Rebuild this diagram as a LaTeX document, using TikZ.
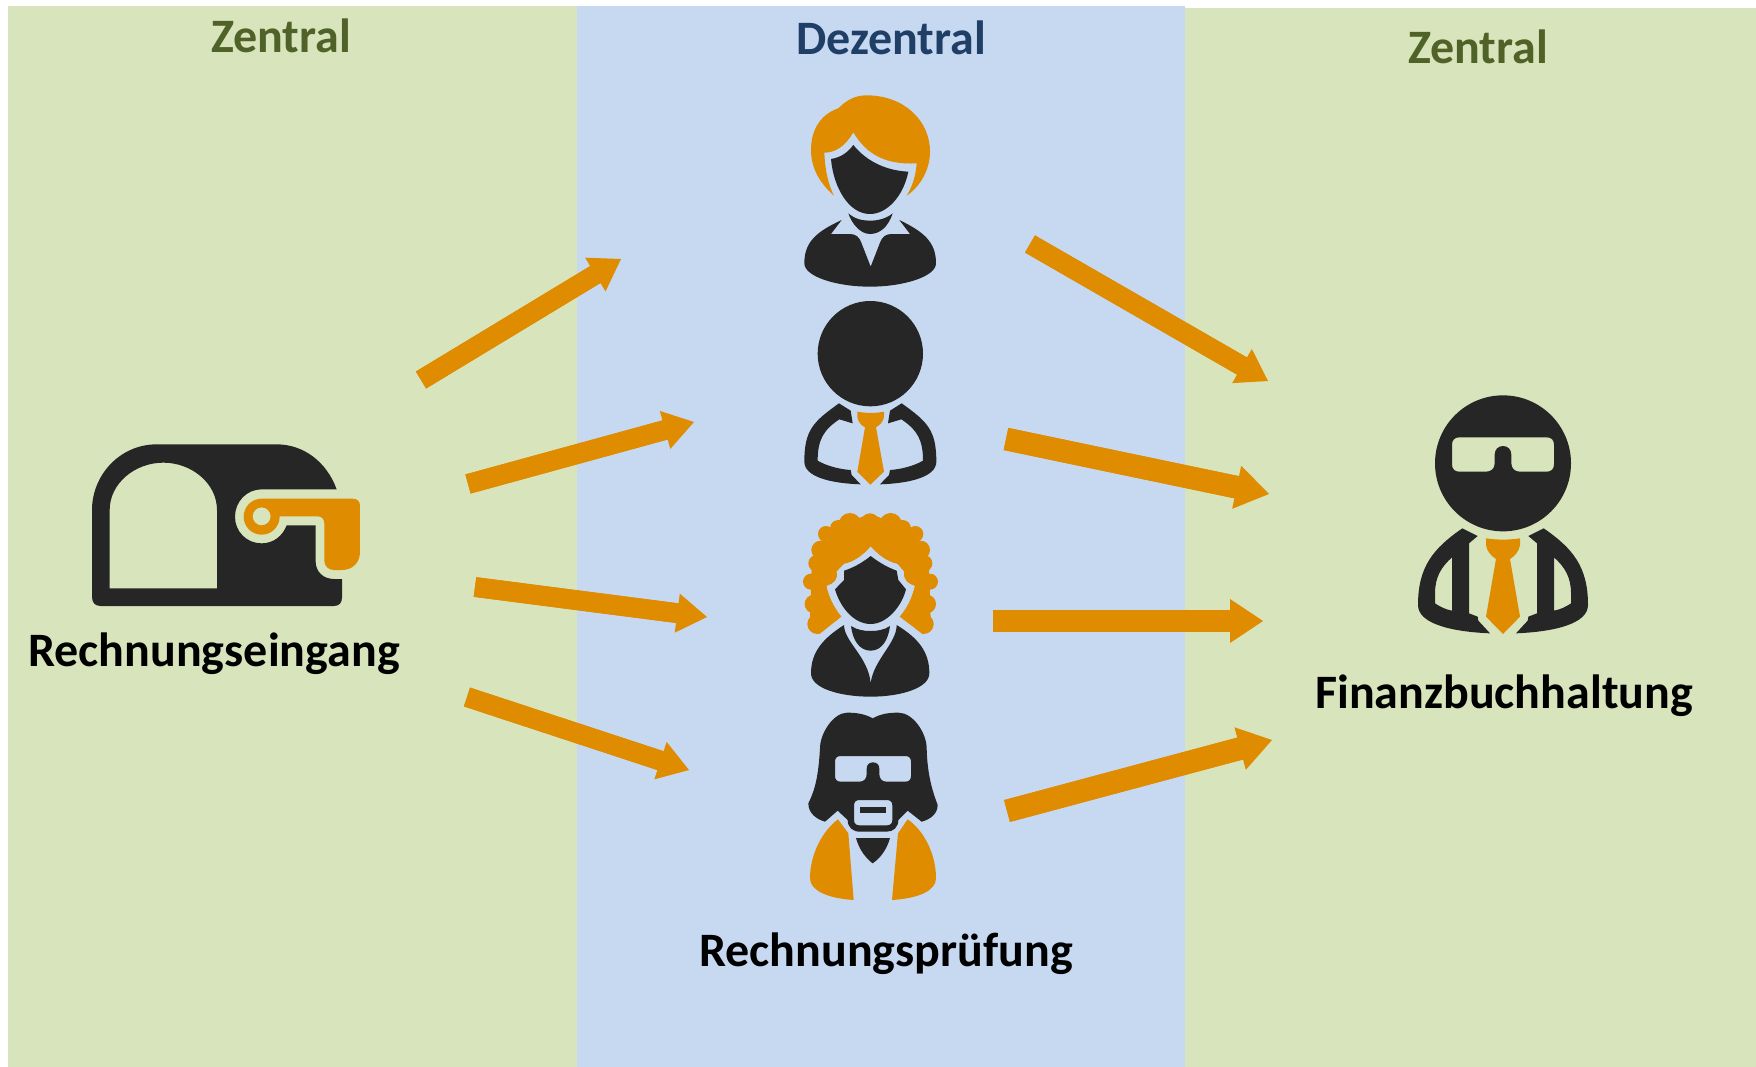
\documentclass[tikz,border=0pt]{standalone}
\usepackage{fontspec}
\setmainfont{Carlito}
\usetikzlibrary{arrows.meta}
\definecolor{panelgreen}{HTML}{D8E4BC}
\definecolor{panelblue}{HTML}{C6D9F1}
\definecolor{accent}{HTML}{DF8C00}
\definecolor{ink}{HTML}{262626}
\definecolor{greentitle}{HTML}{4F6228}
\definecolor{bluetitle}{HTML}{1F3F66}
\tikzset{
  thinarrow/.style={draw=accent,line width=9.9pt,-{Triangle[length=15pt,width=19.7pt,line width=0pt]},postaction={draw=accent,arrows=-,shorten >=13.5pt}},
  thickarrow/.style={draw=accent,line width=11.3pt,-{Triangle[length=16.5pt,width=22pt,line width=0pt]},postaction={draw=accent,arrows=-,shorten >=15pt}},
  heading/.style={font=\bfseries\fontsize{24}{24}\selectfont,inner sep=0pt},
  label/.style={font=\bfseries\fontsize{24}{24}\selectfont,text=black,inner sep=0pt},
  icon/.style={scale=1/3}
}
\begin{document}
\begin{tikzpicture}[x=0.5pt,y=-0.5pt]
\useasboundingbox (0,0) rectangle (1756,1066);
\fill[panelgreen] (8,6) rectangle (577,1068);
\fill[panelgreen] (1185,8) rectangle (1756,1068);
\fill[panelblue] (577,6) rectangle (1185,1068);

\node[heading,text=greentitle] (t1) at (281,36) {Zentral};
\node[heading,text=bluetitle] (t2) at (891,38) {Dezentral};
\node[heading,text=greentitle] (t3) at (1478,47) {Zentral};
\node[label] (l1) at (214,653.5) {Rechnungseingang};
\node[label] (l2) at (886,954) {Rechnungsprüfung};
\node[label] (l3) at (1504,696) {Finanzbuchhaltung};

% mailbox
\begin{scope}[shift={(60,420)},icon]
\fill[ink,even odd rule]
 (96,530) .. controls (96,548) and (105,558) .. (122,558) -- (822,558)
 .. controls (838,558) and (846,548) .. (846,532) -- (846,477) -- (822,477)
 .. controls (790,477) and (767,455) .. (767,425) -- (767,316) -- (680,316)
 .. controls (668,348) and (640,370) .. (605,370)
 .. controls (560,370) and (525,335) .. (525,290)
 .. controls (525,245) and (560,208) .. (605,208) -- (830,208)
 .. controls (800,125) and (730,73) .. (650,73) -- (290,73)
 .. controls (180,73) and (96,165) .. (96,270) -- cycle
 (149,505) -- (471,505) -- (471,270)
 .. controls (471,190) and (395,128) .. (310,128)
 .. controls (225,128) and (149,190) .. (149,270) -- cycle;
\fill[accent,even odd rule]
 (605,236) -- (878,236) .. controls (892,236) and (900,244) .. (900,258)
 -- (900,395) .. controls (900,428) and (878,450) .. (845,450) -- (822,450)
 .. controls (805,450) and (793,438) .. (793,422) -- (793,310)
 .. controls (793,297) and (785,289) .. (772,289) -- (659,289)
 .. controls (659,320) and (635,344) .. (605,344)
 .. controls (575,344) and (551,320) .. (551,290)
 .. controls (551,260) and (575,236) .. (605,236) -- cycle
 (605,289) circle[radius=27];
\end{scope}

% woman with short hair
\begin{scope}[shift={(770,80)},icon]
\fill[accent]
 (192,347) .. controls (150,310) and (123,265) .. (123,210)
 .. controls (123,140) and (160,100) .. (205,85)
 .. controls (230,60) and (255,46) .. (290,46)
 .. controls (400,46) and (480,120) .. (480,215)
 .. controls (480,270) and (450,320) .. (410,347)
 .. controls (430,315) and (438,280) .. (440,250)
 .. controls (350,255) and (290,225) .. (250,157)
 .. controls (225,200) and (195,218) .. (163,218)
 .. controls (165,270) and (175,315) .. (192,347) -- cycle;
\fill[ink]
 (250,195) .. controls (290,245) and (350,272) .. (415,275)
 .. controls (400,350) and (350,402) .. (300,402)
 .. controls (235,402) and (190,320) .. (183,237)
 .. controls (215,232) and (235,215) .. (250,195) -- cycle;
\fill[ink]
 (235,400) .. controls (255,418) and (280,422) .. (300,422)
 .. controls (325,422) and (350,415) .. (368,400)
 .. controls (355,440) and (330,462) .. (300,462)
 .. controls (270,462) and (245,430) .. (235,400) -- cycle;
\fill[ink]
 (215,420) -- (183,462) -- (240,462)
 .. controls (258,462) and (268,472) .. (274,488) -- (302,560) -- (330,488)
 .. controls (336,472) and (346,462) .. (364,462) -- (420,462) -- (388,420)
 .. controls (460,455) and (498,485) .. (498,550)
 .. controls (498,590) and (400,620) .. (300,620)
 .. controls (200,620) and (103,590) .. (103,550)
 .. controls (103,485) and (140,455) .. (215,420) -- cycle;
\end{scope}

% man with tie
\begin{scope}[shift={(770,80)},icon]
\fill[ink] (301,821) circle[radius=158];
\fill[ink]
 (207,970) -- (242,992) -- (248,1030) -- (208,1018)
 .. controls (160,1050) and (143,1080) .. (143,1142)
 .. controls (170,1158) and (210,1168) .. (242,1170) -- (245,1185) -- (272,1213)
 .. controls (180,1210) and (103,1190) .. (103,1145)
 .. controls (103,1050) and (130,1025) .. (207,970) -- cycle;
\fill[ink]
 (395,970) -- (360,992) -- (354,1030) -- (394,1018)
 .. controls (442,1050) and (459,1080) .. (459,1142)
 .. controls (432,1158) and (392,1168) .. (360,1170) -- (357,1185) -- (330,1213)
 .. controls (422,1210) and (499,1190) .. (499,1145)
 .. controls (499,1050) and (472,1025) .. (395,970) -- cycle;
\fill[accent]
 (262,995) .. controls (290,1000) and (315,1000) .. (342,995) -- (342,1010)
 .. controls (340,1025) and (330,1035) .. (318,1042) -- (342,1175) -- (301,1214) -- (262,1175)
 -- (285,1042) .. controls (272,1035) and (264,1025) .. (262,1010) -- cycle;
\end{scope}

% woman with curly hair
\begin{scope}[shift={(770,500)},icon]
\fill[accent]
 (300,42) -- (420,85) -- (477,200) -- (482,360) -- (458,403) -- (388,350)
 .. controls (410,325) and (425,295) .. (434,258)
 .. controls (415,252) and (398,240) .. (402,215)
 -- (382,192) .. controls (350,185) and (325,165) .. (302,140)
 .. controls (280,165) and (255,185) .. (222,192) -- (200,215)
 .. controls (206,240) and (190,252) .. (170,258)
 .. controls (178,295) and (195,325) .. (215,350) -- (148,403) -- (120,360) -- (125,200) -- (180,85) -- cycle;
\foreach \ccx/\ccy/\ccr in {240/73/34,362/73/34,300/68/28,205/85/25,398/85/25,168/102/24,436/102/24,
  152/150/28,452/150/28,140/190/25,462/190/25,123/245/24,480/245/24,132/312/28,470/312/28,
  142/372/30,461/372/30}
  \fill[accent] (\ccx,\ccy) circle[radius=\ccr];
\fill[panelblue]
 (302,140) .. controls (280,165) and (255,185) .. (222,192) -- (200,215)
 .. controls (206,240) and (190,252) .. (170,258)
 .. controls (178,295) and (195,325) .. (215,350) -- (148,403) -- (150,420) -- (458,420) -- (458,403) -- (388,350)
 .. controls (410,325) and (425,295) .. (434,258)
 .. controls (415,252) and (398,240) .. (402,215)
 -- (382,192) .. controls (350,185) and (325,165) .. (302,140) -- cycle;
\fill[ink]
 (302,168) .. controls (330,190) and (360,205) .. (380,212) -- (385,240)
 -- (408,268) .. controls (395,320) and (350,372) .. (302,372)
 .. controls (250,372) and (210,320) .. (195,268) -- (222,240) -- (222,212)
 .. controls (245,205) and (275,190) .. (302,168) -- cycle;
\fill[ink]
 (243,378) .. controls (262,390) and (282,393) .. (302,393)
 .. controls (322,393) and (342,390) .. (360,378)
 .. controls (355,420) and (335,452) .. (302,452)
 .. controls (268,452) and (248,420) .. (243,378) -- cycle;
\fill[ink]
 (222,375) .. controls (222,425) and (295,470) .. (302,550)
 .. controls (310,480) and (380,430) .. (380,375)
 .. controls (445,415) and (478,455) .. (478,520)
 .. controls (478,565) and (390,590) .. (302,590)
 .. controls (210,590) and (123,565) .. (123,520)
 .. controls (123,455) and (160,415) .. (222,375) -- cycle;
\end{scope}

% man with beard and glasses
\begin{scope}[shift={(770,500)},icon]
\fill[ink,even odd rule]
 (308,655) .. controls (335,640) and (360,638) .. (385,638)
 .. controls (430,638) and (470,700) .. (470,745)
 .. controls (472,830) and (490,880) .. (503,915)
 .. controls (503,945) and (475,960) .. (455,965) -- (413,932) -- (385,960)
 .. controls (385,982) and (370,995) .. (350,995) -- (270,995)
 .. controls (248,995) and (233,982) .. (233,960) -- (203,932) -- (165,965)
 .. controls (140,958) and (115,940) .. (115,910)
 .. controls (135,870) and (145,830) .. (150,745)
 .. controls (150,700) and (190,638) .. (232,638)
 .. controls (260,638) and (285,642) .. (308,655) -- cycle
 (212,768) -- (406,768) .. controls (417,768) and (423,774) .. (423,785) -- (423,828)
 .. controls (423,839) and (417,845) .. (406,845) -- (350,845)
 .. controls (336,845) and (328,836) .. (328,822) -- (328,806)
 .. controls (328,794) and (320,787) .. (309,787)
 .. controls (298,787) and (290,794) .. (290,806) -- (290,822)
 .. controls (290,836) and (282,845) .. (268,845) -- (212,845)
 .. controls (201,845) and (195,839) .. (195,828) -- (195,785)
 .. controls (195,774) and (201,768) .. (212,768) -- cycle
 (268,900) -- (351,900) .. controls (361,900) and (367,906) .. (367,916) -- (367,960)
 .. controls (367,970) and (361,976) .. (351,976) -- (268,976)
 .. controls (258,976) and (252,970) .. (252,960) -- (252,916)
 .. controls (252,906) and (258,900) .. (268,900) -- cycle;
\fill[ink] (271,920) rectangle (347,939);
\fill[ink] (258,1014) -- (360,1014) .. controls (350,1050) and (330,1075) .. (308,1090)
 .. controls (288,1075) and (268,1050) .. (258,1014) -- cycle;
\fill[accent] (204,958) -- (235,1000) -- (251,1200)
 .. controls (170,1195) and (120,1170) .. (120,1135)
 .. controls (120,1060) and (160,990) .. (204,958) -- cycle;
\fill[accent] (413,958) -- (384,1000) -- (366,1200)
 .. controls (450,1195) and (498,1170) .. (498,1135)
 .. controls (498,1060) and (460,990) .. (413,958) -- cycle;
\end{scope}

% accountant
\begin{scope}[shift={(1390,380)},icon]
\fill[ink,even odd rule] (339,250) circle[radius=204]
 (208,172) -- (470,172) .. controls (484,172) and (492,180) .. (492,194) -- (492,253)
 .. controls (492,267) and (484,275) .. (470,275) -- (390,275)
 .. controls (374,275) and (364,265) .. (364,250) -- (364,224)
 .. controls (364,208) and (353,198) .. (339,198)
 .. controls (325,198) and (314,208) .. (314,224) -- (314,250)
 .. controls (314,265) and (304,275) .. (288,275) -- (208,275)
 .. controls (194,275) and (186,267) .. (186,253) -- (186,194)
 .. controls (186,180) and (194,172) .. (208,172) -- cycle;
\fill[ink,even odd rule]
 (217,445) -- (263,468) -- (237,490) -- (237,700) -- (263,710) -- (265,722) -- (300,760)
 .. controls (180,755) and (84,730) .. (84,675)
 .. controls (84,560) and (130,505) .. (217,445) -- cycle
 (186,532) -- (186,692) .. controls (165,688) and (150,680) .. (135,670) -- (135,640)
 .. controls (135,590) and (155,560) .. (186,532) -- cycle;
\fill[ink,even odd rule]
 (461,445) -- (415,468) -- (441,490) -- (441,700) -- (415,710) -- (413,722) -- (378,760)
 .. controls (498,755) and (594,730) .. (594,675)
 .. controls (594,560) and (548,505) .. (461,445) -- cycle
 (492,532) -- (492,692) .. controls (513,688) and (528,680) .. (543,670) -- (543,640)
 .. controls (543,590) and (523,560) .. (492,532) -- cycle;
\fill[accent]
 (288,475) .. controls (320,480) and (358,480) .. (390,475) -- (390,495)
 .. controls (388,512) and (375,528) .. (360,537) -- (390,710) -- (339,762) -- (288,710)
 -- (318,537) .. controls (303,528) and (290,512) .. (288,495) -- cycle;
\end{scope}

% arrows
\foreach \n/\ax/\ay/\bx/\by in {a1/421/380/621/259,a2/468/484/694/422,a3/475/587/707/617,a4/467/697/689/770,
  b1/1030/244/1268/381}{
  \coordinate (\n s) at (\ax,\ay);
  \coordinate (\n e) at (\bx,\by);
  \draw[thinarrow] (\n s) -- (\n e);
}
\foreach \n/\ax/\ay/\bx/\by in {b2/1006/439/1269/494,b3/993/621/1263/621,b4/1007/811/1272/740}{
  \coordinate (\n s) at (\ax,\ay);
  \coordinate (\n e) at (\bx,\by);
  \draw[thickarrow] (\n s) -- (\n e);
}
\end{tikzpicture}
\end{document}
